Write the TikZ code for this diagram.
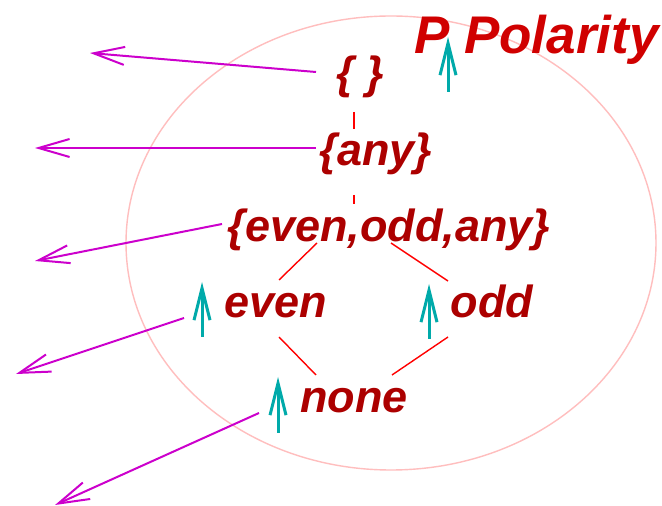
\documentclass[tikz,border=0pt]{standalone}
\usepackage{fontspec}
\setmainfont{Liberation Sans}
\usetikzlibrary{arrows.meta}
\definecolor{lblred}{RGB}{172,0,0}
\definecolor{ttlred}{RGB}{208,0,0}
\definecolor{latred}{RGB}{255,0,0}
\definecolor{ringpink}{RGB}{255,190,190}
\definecolor{cyanup}{RGB}{0,170,170}
\definecolor{magarr}{RGB}{204,0,204}
\tikzset{
  lbl/.style={inner sep=0pt, anchor=base, text=lblred, font=\fontsize{45}{54}\selectfont\bfseries\itshape},
  ttl/.style={inner sep=0pt, anchor=base west, text=ttlred, font=\fontsize{53}{60}\selectfont\bfseries\itshape},
  lat/.style={draw=latred, line width=1.4pt},
  ring/.style={draw=ringpink, line width=1.4pt},
  upar/.style={draw=cyanup, line width=3pt, -{Straight Barb[length=32pt,width=16pt]}},
  maparr/.style={draw=magarr, line width=2pt, -{Straight Barb[length=31pt,width=18pt]}}
}
\begin{document}
\begin{tikzpicture}[x=1pt,y=1pt]
\useasboundingbox (0,0) rectangle (662,506);
\fill[white] (0,0) rectangle (662,506);
% ellipse
\draw[ring] (391,263) ellipse [x radius=265, y radius=227];
% title
\node[ttl] (title) at (414,452) {P Polarity};
% lattice nodes
\node[lbl] (n0) at (360,417) {\{ \}};
\node[lbl] (n1) at (376,340) {\{any\}};
\node[lbl] (n2) at (389,264) {\{even,odd,any\}};
\node[lbl] (ev) at (276,188) {even};
\node[lbl] (od) at (492,188) {odd};
\node[lbl] (no) at (354,93) {none};
% lattice edges
\draw[lat] ([xshift=-6pt,yshift=-23pt]n0.base) -- ([xshift=-22pt,yshift=37pt]n1.base);
\draw[lat] ([xshift=-22pt,yshift=-29pt]n1.base) -- ([xshift=-35pt,yshift=38pt]n2.base);
\draw[lat] ([xshift=-72pt,yshift=-1pt]n2.base) -- ([xshift=3pt,yshift=38pt]ev.base);
\draw[lat] ([xshift=2pt,yshift=-1pt]n2.base) -- ([xshift=-44pt,yshift=37pt]od.base);
\draw[lat] ([xshift=3pt,yshift=-19pt]ev.base) -- ([xshift=-38pt,yshift=38pt]no.base);
\draw[lat] ([xshift=-44pt,yshift=-19pt]od.base) -- ([xshift=38pt,yshift=38pt]no.base);
% cyan up arrows
\draw[upar] (448,414) -- (448,469);
\draw[upar] (202,169) -- (202,224);
\draw[upar] (429,167) -- (429,222);
\draw[upar] (278,73) -- (278,129);
% magenta arrows
\coordinate (m0) at (90,453);
\coordinate (m1) at (35,358);
\coordinate (m2) at (35,245);
\coordinate (m3) at (16,132);
\coordinate (m4) at (55,1);
\draw[maparr] ([xshift=-44pt,yshift=17pt]n0.base) -- (m0);
\draw[maparr] ([xshift=-60pt,yshift=18pt]n1.base) -- (m1);
\draw[maparr] ([xshift=-167pt,yshift=18pt]n2.base) -- (m2);
\draw[maparr] ([xshift=-92pt,yshift=0pt]ev.base) -- (m3);
\draw[maparr] ([xshift=-95pt,yshift=0pt]no.base) -- (m4);
\end{tikzpicture}
\end{document}
